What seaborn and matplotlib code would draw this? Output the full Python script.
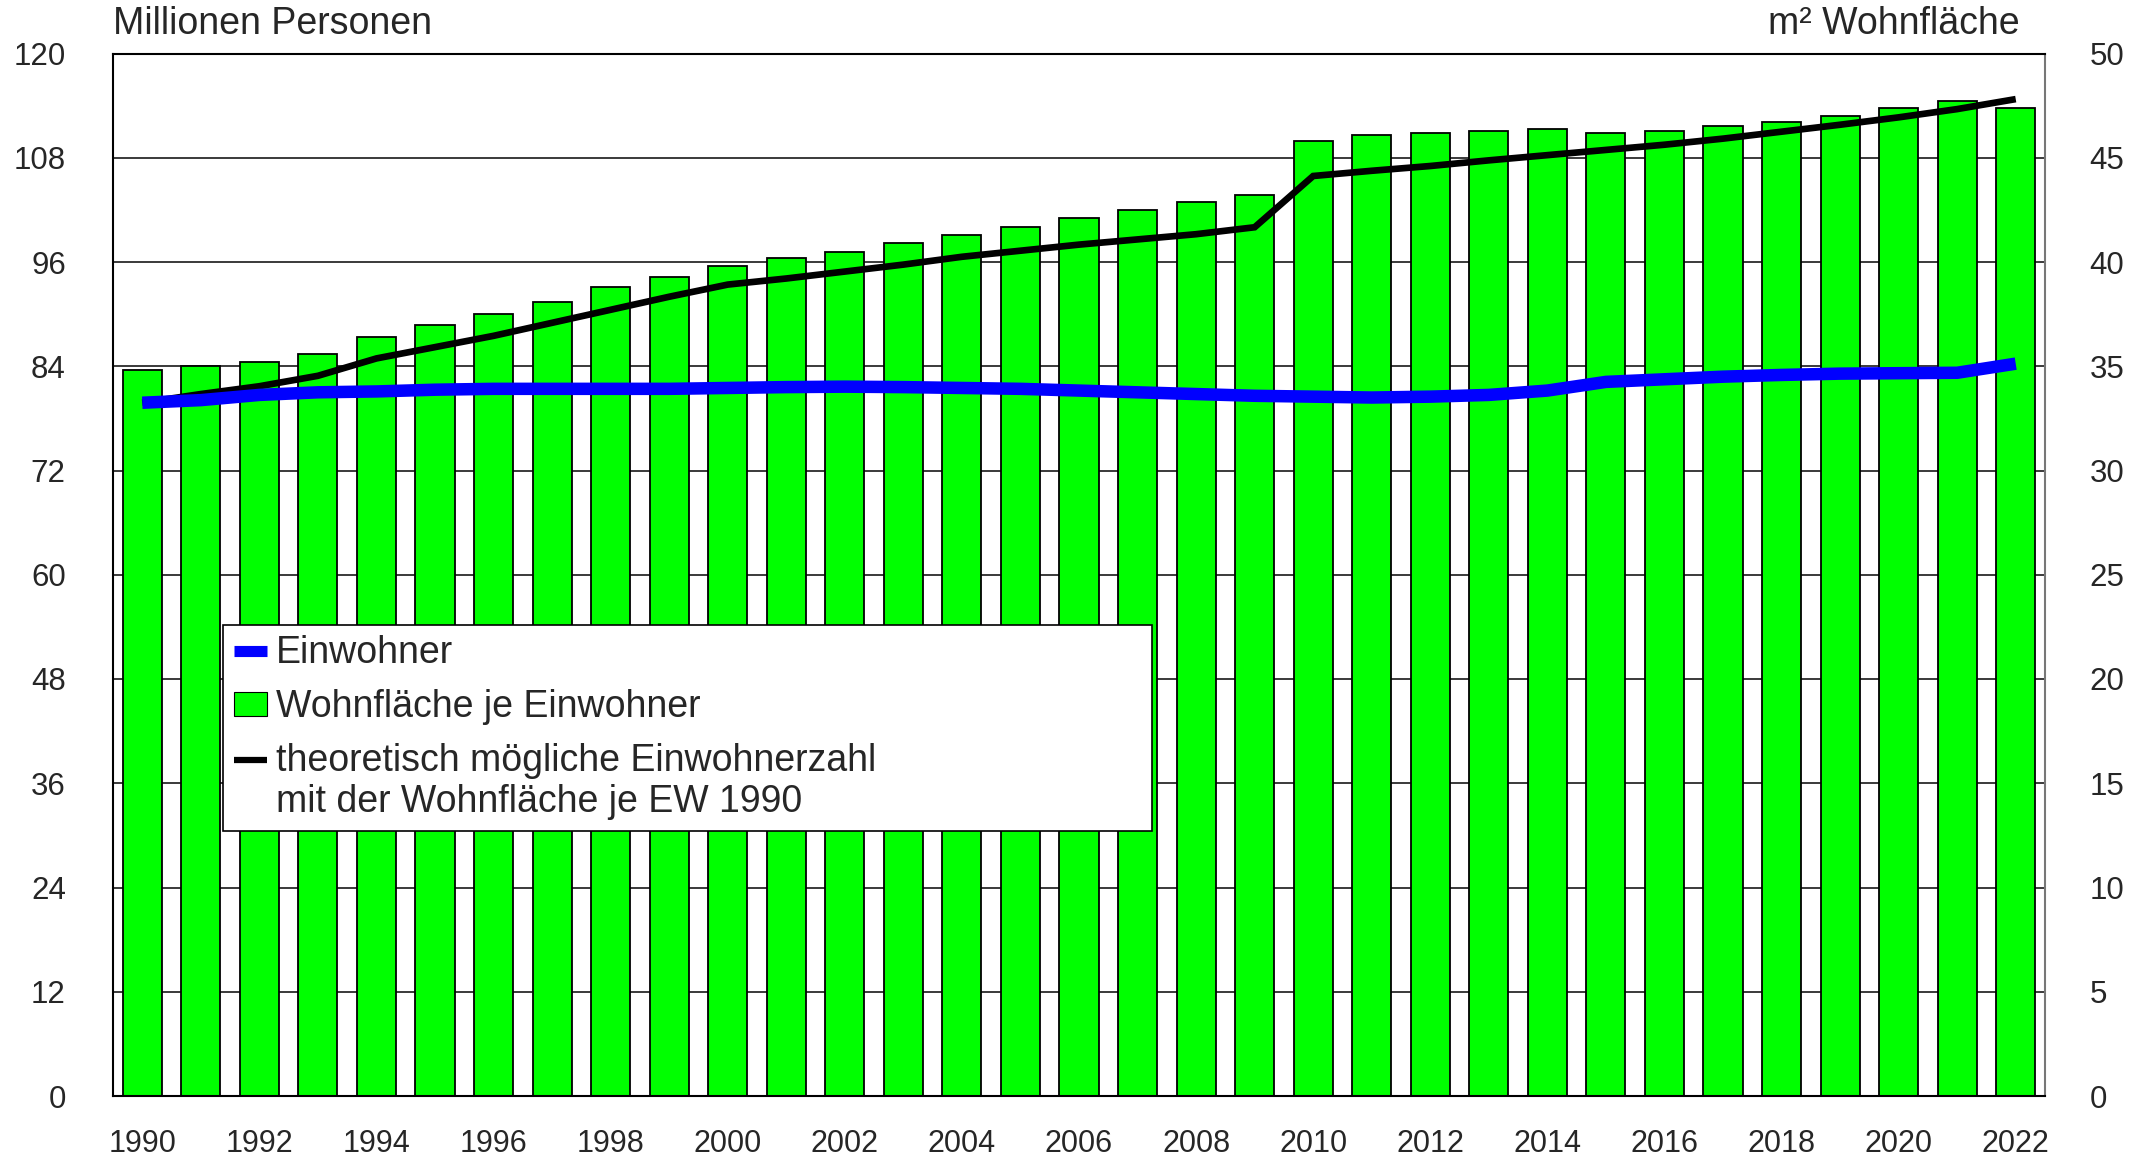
import numpy as np
import pandas as pd
import matplotlib
matplotlib.use("Agg")
import matplotlib.pyplot as plt
import seaborn as sns
from matplotlib.lines import Line2D
from matplotlib.patches import Patch
from matplotlib.legend_handler import HandlerLine2D

# ---------------- data ----------------
years = list(range(1990, 2023))
wohnflaeche_je_ew = [34.8, 35.0, 35.2, 35.6, 36.4, 37.0, 37.5, 38.1, 38.8, 39.3,
                     39.8, 40.2, 40.5, 40.9, 41.3, 41.7, 42.1, 42.5, 42.9, 43.2,
                     45.8, 46.1, 46.2, 46.3, 46.4, 46.2, 46.3, 46.5, 46.7, 47.0,
                     47.4, 47.7, 47.4]
einwohner = [79.8, 80.1, 80.7, 81.0, 81.1, 81.3, 81.4, 81.4, 81.4, 81.4,
             81.5, 81.6, 81.65, 81.6, 81.5, 81.4, 81.2, 81.0, 80.8, 80.6,
             80.5, 80.4, 80.5, 80.7, 81.2, 82.2, 82.5, 82.8, 83.0, 83.15,
             83.2, 83.25, 84.3]
theoretisch = [79.8, 80.8, 81.7, 82.9, 84.9, 86.2, 87.5, 89.0, 90.5, 92.0,
               93.4, 94.1, 94.9, 95.7, 96.6, 97.3, 98.0, 98.6, 99.2, 100.0,
               105.9, 106.5, 107.05, 107.7, 108.3, 108.9, 109.5, 110.2, 111.0, 111.8,
               112.65, 113.6, 114.75]
left_ticks = [0, 12, 24, 36, 48, 60, 72, 84, 96, 108, 120]
right_ticks = [0, 5, 10, 15, 20, 25, 30, 35, 40, 45, 50]
legend_labels = ["Einwohner", "Wohnfläche je Einwohner",
                 "theoretisch mögliche Einwohnerzahl\nmit der Wohnfläche je EW 1990"]

# ---------------- style ----------------
sns.set_style("white")
plt.rcParams["font.family"] = ["Liberation Sans", "DejaVu Sans"]

W, H = 2145, 1157
fig = plt.figure(figsize=(W / 100, H / 100), dpi=100)
fig.subplots_adjust(left=113 / W, right=2045 / W, top=1 - 53.5 / H, bottom=1 - 1096 / H)
ax = fig.add_subplot(111)
ax2 = ax.twinx()

df = pd.DataFrame({
    "Jahr": [str(y) for y in years],
    "pos": np.arange(len(years)),
    "wf": wohnflaeche_je_ew,
    "ew": einwohner,
    "th": theoretisch,
})

# bars on right axis (m²)
sns.barplot(data=df, x="Jahr", y="wf", ax=ax2, color="#00FF00", saturation=1,
            edgecolor="black", linewidth=1.3, width=0.667)
ax2.set_ylim(0, 50)
ax2.set_yticks(right_ticks)
ax2.yaxis.grid(True, color="#3a3a3a", linewidth=1.4)
ax2.set_axisbelow(True)
ax2.set_xlabel("")
ax2.set_ylabel("")

# lines on left axis (persons), drawn above bars
ax.set_zorder(ax2.get_zorder() + 1)
ax.patch.set_visible(False)
sns.lineplot(data=df, x="pos", y="th", ax=ax, color="black", linewidth=4.8,
             solid_joinstyle="miter", solid_capstyle="butt")
sns.lineplot(data=df, x="pos", y="ew", ax=ax, color="#0000FF", linewidth=9,
             solid_capstyle="butt")
ax.set_ylim(0, 120)
ax.set_yticks(left_ticks)
ax.set_xlim(-0.5, len(years) - 0.5)
ax.set_xticks(df["pos"][::2])
ax.set_xticklabels(df["Jahr"][::2])
ax.set_xlabel("")
ax.set_ylabel("")

ax.tick_params(axis="y", length=0, pad=34, labelsize=22.5)
ax.tick_params(axis="x", length=0, pad=24, labelsize=22)
ax2.tick_params(axis="y", length=0, pad=32, labelsize=22.5)

for sp in ["top", "left", "bottom"]:
    ax.spines[sp].set_color("black")
    ax.spines[sp].set_linewidth(1.5)
ax.spines["right"].set_color("#777777")
ax.spines["right"].set_linewidth(1.5)
for sp in ax2.spines.values():
    sp.set_visible(False)

# axis titles
fig.text(113 / W, 1 - 24 / H, "Millionen Personen", ha="left", va="center", fontsize=27)
fig.text(2020 / W, 1 - 24 / H, "m² Wohnfläche", ha="right", va="center", fontsize=27)


class UpperLineHandler(HandlerLine2D):
    """Places the line handle next to the first line of a two-line label."""
    def create_artists(self, legend, orig_handle, xdescent, ydescent, width,
                       height, fontsize, trans):
        artists = super().create_artists(legend, orig_handle, xdescent, ydescent,
                                         width, height, fontsize, trans)
        for a in artists:
            a.set_ydata(np.asarray(a.get_ydata(), dtype=float) + 0.6 * fontsize)
        return artists


# legend
handles = [
    Line2D([], [], color="#0000FF", linewidth=8, solid_capstyle="butt"),
    Patch(facecolor="#00FF00", edgecolor="black", linewidth=0.8),
    Line2D([], [], color="black", linewidth=4.5, solid_capstyle="butt"),
]
leg = ax.legend(handles, legend_labels, loc="upper left",
                bbox_to_anchor=(0.057, 0.452 - 0.19, 0.481, 0.19), mode="expand",
                fontsize=27, frameon=True, fancybox=False, shadow=False,
                borderaxespad=0, borderpad=0.28, handlelength=0.9,
                handleheight=0.6, handletextpad=0.22, labelspacing=0.47,
                handler_map={handles[2]: UpperLineHandler()})
leg.get_frame().set_edgecolor("black")
leg.get_frame().set_linewidth(1.2)
leg.get_frame().set_alpha(1)
for t in leg.get_texts():
    t.set_linespacing(1.2)

fig.savefig("out.png", dpi=100, facecolor="white")
